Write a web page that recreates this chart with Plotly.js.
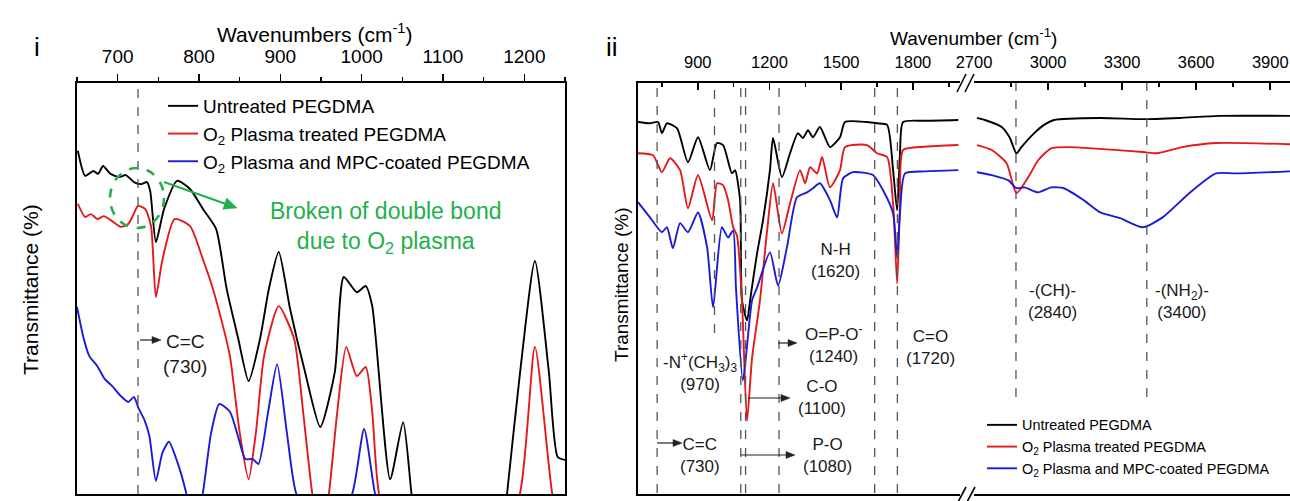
<!DOCTYPE html>
<html><head><meta charset="utf-8">
<script src="https://cdn.plot.ly/plotly-3.0.1.min.js"></script>
<style>html,body{margin:0;padding:0;background:#fff;overflow:hidden}#chart{width:1290px;height:501px}</style>
</head><body><div id="chart"></div>
<script>
// ---------- Panel i data (wavenumber cm-1, transmittance a.u.) ----------
const untreatedI_wn = [651,660,670,676,682,691,702,710,720,729,736,740,747,757,773,789,805,821,834,848,861,875,886,898,912,930,949,967,978,994,1005,1013,1035,1051,1061,1075,1120,1165,1179,1195,1213,1230,1241,1250];
const untreatedI_T  = [83.5,77.4,78.6,77.9,79.8,77.9,77.1,77.6,75.9,75.4,75.9,73.7,61.3,69.3,76.2,74.2,69.3,64.5,49.9,38,27.5,37.7,50,58.9,45.0,30,16.3,29.7,52.8,49.1,50.6,45.7,3.6,17.5,0.5,-25,-60,-25,0.5,30,56.7,30,9.0,8.3];
const plasmaI_wn = [651,660,667,675,683,693,704,713,718,725,734,741,747,755,770,789,805,816,828,838,850,861,870,880,898,917,928,939,950,960,970,981,994,1005,1013,1021,1100,1195,1213,1234,1250];
const plasmaI_T  = [70.6,67.4,68.1,66.9,67.6,66.4,65.0,65.7,67.4,70.1,69.3,65.2,47.9,57,66.9,65.2,57,50.6,42,33.6,15,3.6,15,33.6,45.7,37.7,20,0.5,-12,0.5,20,35.8,28.7,30.9,20,0.5,-60,0.5,35.8,0.5,-15];
const mpcI_wn = [650,658,665,675,684,693,703,713,720,726,733,739,747,755,763,773,784,795,805,815,825,838,848,857,866,873,885,896,908,919,954,989,1003,1016,1050,1250];
const mpcI_T  = [45.5,38,33.6,31.1,28,26.3,24,22.4,23.6,20.7,18,14.1,3.2,10,12.7,8,0.5,-10,0.5,15,21.9,20,14,8.5,8.5,7.3,20,31.6,15,0.5,-15,0.5,15.8,0.5,-30,-40];

// ---------- Panel ii data (broken axis: 650-2000 and 2700-4000) ----------
const untreatedII_wn = [650,700,734,750,771,813,859,901,951,980,1006,1043,1056,1077,1085,1106,1119,1131,1148,1173,1202,1215,1252,1286,1319,1340,1361,1382,1411,1453,1495,1516,1608,1650,1692,1717,1734,1746,1759,1850,1990,2712,2744,2812,2844,2872,2892,2944,2984,3024,3212,3384,3532,3692,3980];
const untreatedII_T  = [90.5,90.2,90.5,87.8,90.2,89.0,80.7,86.8,78.8,85.4,84.9,78.0,78.8,71.5,47.1,42.2,47.1,52,58.5,66.6,78.8,86.6,77.1,82.9,87.8,86.6,88.5,86.8,89.3,84.4,86.8,90.5,90.5,90.2,89.8,78.8,69.0,82.9,90.5,90.8,91.0,91.5,91.0,89.3,86.8,82.9,84.4,87.8,89.8,91.0,91.5,91.2,91.5,92.0,92.0];
const plasmaII_wn = [650,713,750,784,826,859,901,960,981,1006,1027,1048,1064,1085,1106,1127,1160,1190,1215,1252,1286,1328,1349,1370,1399,1420,1453,1495,1516,1608,1650,1692,1717,1734,1746,1759,1850,1990,2712,2772,2832,2872,2920,2960,3012,3080,3384,3440,3544,3680,3980];
const plasmaII_T  = [82.9,82.4,78.3,81.7,78.8,69.5,77.6,66.6,75.6,75.1,71.5,64.9,62.9,47.1,17.8,33,47,64,75.6,63.4,70.7,78.8,75.6,79.5,78.0,82.0,74.6,78.8,84.4,84.9,82.9,82.0,70.7,51.2,70.7,83.7,84.5,84.9,84.9,83.7,80.5,73.2,77.1,81.2,84.1,84.4,83.2,82.9,84.4,85.4,85.1];
const mpcII_wn = [650,700,750,771,796,826,859,901,939,964,1001,1027,1048,1060,1089,1127,1148,1202,1236,1273,1315,1357,1382,1411,1453,1483,1508,1550,1633,1675,1717,1734,1746,1767,1850,1990,2712,2772,2840,2872,2904,2960,3012,3064,3144,3212,3292,3384,3464,3572,3680,3760,3980];
const mpcII_T  = [71.0,67.3,63.7,64.9,59.8,65.9,63.7,68.5,60.0,45.4,64.9,62.4,64.1,50,27.6,47.1,50.2,58.8,50.7,60.0,72.2,73.4,74.4,75.6,71.5,67.3,76.8,78.3,77.6,73.9,68.3,57.6,68.3,78.0,78.5,78.8,78.3,77.6,76.3,74.4,74.6,73.4,74.6,74.4,71.5,68.5,67.1,64.9,67.3,73.2,78.0,78.0,78.5];

const seriesNames = ['Untreated PEGDMA', 'O<sub>2</sub> Plasma treated PEGDMA', 'O<sub>2</sub> Plasma and MPC-coated PEGDMA'];
const seriesColors = ['#000000', '#e3191c', '#1b1bd6'];
const panelI = [[untreatedI_wn, untreatedI_T], [plasmaI_wn, plasmaI_T], [mpcI_wn, mpcI_T]];
const panelII = [[untreatedII_wn, untreatedII_T], [plasmaII_wn, plasmaII_T], [mpcII_wn, mpcII_T]];

// marker lines (wavenumbers as drawn in the figure)
const markI = 725;
const marksII = [[730, 493], [970, 333], [1080, 493], [1100, 493], [1240, 493], [1640, 493], [1735, 493]];
const marksII2 = [[2870, 397], [3400, 397]];

// ---------- layout helpers (pixel -> paper) ----------
const ML = 77, MT = 83, PW = 1213, PH = 411;
const px = v => (v - ML) / PW;
const py = v => (MT + PH - v) / PH;
const FONT = 'Arial, "Liberation Sans", sans-serif';

function split(wn, t, lo, hi) {
  const x = [], y = [];
  wn.forEach((w, i) => { if (w >= lo && w <= hi) { x.push(w); y.push(t[i]); } });
  return {x, y};
}

const traces = [];
panelI.forEach((s, i) => {
  traces.push({x: s[0], y: s[1], xaxis: 'x', yaxis: 'y', mode: 'lines', name: seriesNames[i],
    legend: 'legend', line: {color: seriesColors[i], width: 1.9, shape: 'spline', smoothing: 0.6}});
});
panelII.forEach((s, i) => {
  const a = split(s[0], s[1], 0, 2100), b = split(s[0], s[1], 2600, 5000);
  traces.push({x: a.x, y: a.y, xaxis: 'x2', yaxis: 'y2', mode: 'lines', name: seriesNames[i],
    legend: 'legend2', line: {color: seriesColors[i], width: 1.9, shape: 'spline', smoothing: 0.6}});
  traces.push({x: b.x, y: b.y, xaxis: 'x3', yaxis: 'y3', mode: 'lines', name: seriesNames[i],
    showlegend: false, line: {color: seriesColors[i], width: 1.9, shape: 'spline', smoothing: 0.6}});
});

const baseX = {showgrid: false, zeroline: false, side: 'top', showline: true, mirror: true,
  linecolor: '#000', linewidth: 2, tickcolor: '#000', tickwidth: 1.6, tick0: 0, ticklabeloverflow: 'allow'};
const baseY = {showgrid: false, zeroline: false, showticklabels: false, ticks: '', range: [0, 100], domain: [0, 1]};

const dash = {color: '#555', width: 1.3, dash: 'dash'};
const shapes = [];
shapes.push({type: 'line', xref: 'x', yref: 'paper', x0: markI, x1: markI, y0: 0, y1: 1, line: dash});
marksII.forEach(m => shapes.push({type: 'line', xref: 'x2', yref: 'paper', x0: m[0], x1: m[0], y0: py(m[1]), y1: 1, line: dash}));
marksII2.forEach(m => shapes.push({type: 'line', xref: 'x3', yref: 'paper', x0: m[0], x1: m[0], y0: py(m[1]), y1: 1, line: dash}));
// axis break marks
[[957,92,966,74],[965,92,974,74],[958,502,966,487],[967,502,975,487]].forEach(b =>
  shapes.push({type: 'line', xref: 'paper', yref: 'paper', x0: px(b[0]), y0: py(b[1]), x1: px(b[2]), y1: py(b[3]), line: {color: '#000', width: 1.6}}));
// green dashed circle
const GREEN = '#22b04b';
shapes.push({type: 'circle', xref: 'paper', yref: 'paper', x0: px(110), x1: px(164), y0: py(228), y1: py(168), line: {color: GREEN, width: 2.6, dash: 'dash'}});

// arrows drawn as a line plus a filled head
function arrow(x0, y0, x1, y1, color, w, hl, hw) {
  color = color || '#222'; w = w || 1.2; hl = hl || 9; hw = hw || 3.5;
  const dx = x1 - x0, dy = y1 - y0, len = Math.hypot(dx, dy), ux = dx / len, uy = dy / len;
  const bx = x1 - ux * hl, by = y1 - uy * hl;
  shapes.push({type: 'line', xref: 'paper', yref: 'paper', x0: px(x0), y0: py(y0), x1: px(bx + ux * 2), y1: py(by + uy * 2), line: {color: color, width: w}});
  const p1 = [bx - uy * hw, by + ux * hw], p2 = [bx + uy * hw, by - ux * hw];
  shapes.push({type: 'path', xref: 'paper', yref: 'paper', fillcolor: color, line: {color: color, width: 0.5},
    path: 'M' + px(x1) + ',' + py(y1) + ' L' + px(p1[0]) + ',' + py(p1[1]) + ' L' + px(p2[0]) + ',' + py(p2[1]) + ' Z'});
}

const ann = [];
function txt(t, x, y, size, opts) {
  ann.push(Object.assign({text: t, xref: 'paper', yref: 'paper', x: px(x), y: py(y), showarrow: false,
    font: {family: FONT, size: size, color: '#1a1a1a'}, xanchor: 'center', yanchor: 'middle'}, opts || {}));
}
// titles and panel labels
txt('Wavenumbers (cm<sup>-1</sup>)', 315, 33, 21, {font: {family: FONT, size: 21, color: '#000'}});
txt('Wavenumber (cm<sup>-1</sup>)', 973, 37, 19, {font: {family: FONT, size: 19, color: '#000'}});
txt('Transmittance (%)', 30, 290, 21, {textangle: -90, font: {family: FONT, size: 21, color: '#000'}});
txt('Transmittance (%)', 621, 285, 19, {textangle: -90, font: {family: FONT, size: 19, color: '#000'}});
txt('i', 37, 47, 26, {font: {family: FONT, size: 26, color: '#000'}});
txt('ii', 612, 47, 26, {font: {family: FONT, size: 26, color: '#000'}});
// panel i notes
txt('Broken of double bond<br>due to O<sub>2</sub> plasma', 385, 227, 23, {font: {family: FONT, size: 23, color: GREEN}});
arrow(164, 182, 237, 208, GREEN, 2, 13, 6);
txt('C=C<br>(730)', 185, 354, 19);
arrow(140, 340, 161, 340);
// panel ii notes
txt('N-H<br>(1620)', 835, 260, 17);
txt('-(CH)-<br>(2840)', 1052, 301, 17);
txt('-(NH<sub>2</sub>)-<br>(3400)', 1182, 301, 17);
txt('O=P-O<sup>-</sup><br>(1240)', 833, 344, 17);
txt('C=O<br>(1720)', 930, 347, 17);
txt('-N<sup>+</sup>(CH<sub>3</sub>)<sub>3</sub><br>(970)', 700, 372, 17);
txt('C-O<br>(1100)', 822, 397, 17);
txt('C=C<br>(730)', 700, 455, 17);
txt('P-O<br>(1080)', 827, 455, 17);
arrow(657, 443, 682, 443);
arrow(741, 455, 795, 455);
arrow(748, 398, 790, 398);
arrow(778, 343, 797, 343);

const layout = {
  width: 1290, height: 501, margin: {l: ML, r: 0, t: MT, b: 501 - MT - PH, autoexpand: false},
  paper_bgcolor: '#fff', plot_bgcolor: 'rgba(0,0,0,0)',
  font: {family: FONT, color: '#000'},
  xaxis: Object.assign({}, baseX, {domain: [0, px(565)], range: [650, 1250], anchor: 'y', dtick: 100,
    ticks: 'outside', ticklen: 7, tickfont: {size: 19, family: FONT, color: '#000'}, ticklabelstandoff: 3,
    minor: {dtick: 50, ticks: 'outside', ticklen: 4, tickwidth: 1.6, tickcolor: '#000'}}),
  yaxis: Object.assign({}, baseY, {anchor: 'x', showline: true, mirror: true, linecolor: '#000', linewidth: 2}),
  xaxis2: Object.assign({}, baseX, {domain: [px(638), px(960)], range: [650, 1997], anchor: 'y2', dtick: 300,
    ticks: 'inside', ticklen: 7, tickfont: {size: 16.5, family: FONT, color: '#000'}, ticklabelstandoff: 6,
    minor: {dtick: 150, ticks: 'inside', ticklen: 4, tickwidth: 1.6, tickcolor: '#000'}}),
  yaxis2: Object.assign({}, baseY, {anchor: 'x2', showline: true, mirror: false, linecolor: '#000', linewidth: 2}),
  xaxis3: Object.assign({}, baseX, {domain: [px(974), 1], range: [2700, 3980], anchor: 'y3', dtick: 300,
    ticks: 'inside', ticklen: 7, tickfont: {size: 16.5, family: FONT, color: '#000'}, ticklabelstandoff: 6,
    minor: {dtick: 150, ticks: 'inside', ticklen: 4, tickwidth: 1.6, tickcolor: '#000'}}),
  yaxis3: Object.assign({}, baseY, {anchor: 'x3', showline: false}),
  legend: {x: px(163), y: py(87), xanchor: 'left', yanchor: 'top', bgcolor: 'rgba(0,0,0,0)',
    font: {family: FONT, size: 19, color: '#000'}, tracegroupgap: 0},
  legend2: {x: px(982), y: py(409), xanchor: 'left', yanchor: 'top', bgcolor: 'rgba(0,0,0,0)',
    font: {family: FONT, size: 14.4, color: '#000'}, tracegroupgap: 0},
  shapes: shapes, annotations: ann, showlegend: true
};

Plotly.newPlot('chart', traces, layout, {displayModeBar: false, staticPlot: true});
</script></body></html>
